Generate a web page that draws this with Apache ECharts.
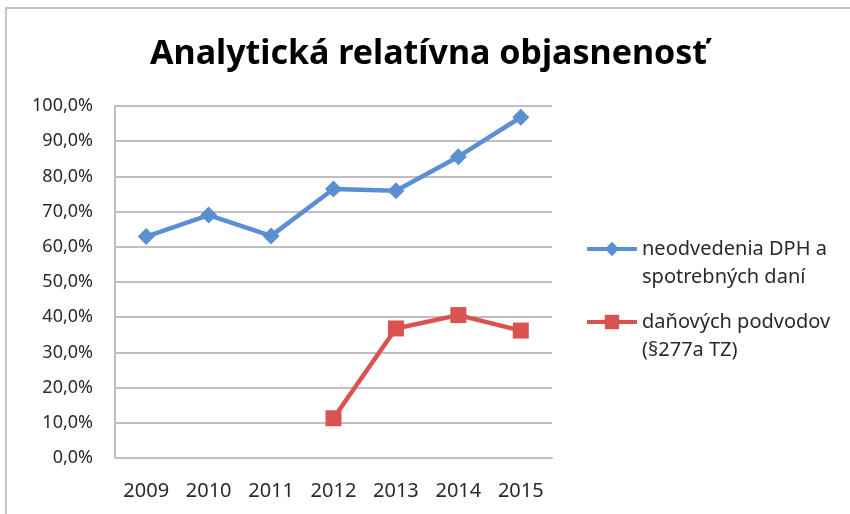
<!DOCTYPE html>
<html>
<head>
<meta charset="utf-8">
<script src="https://cdn.jsdelivr.net/npm/echarts@6/dist/echarts.min.js"></script>
<style>
  html, body { margin: 0; padding: 0; background: #fff; overflow: hidden; }
  #chart { width: 850px; height: 514px; }
</style>
</head>
<body>
<div id="chart"></div>
<script>
  // data (in %)
  const years = ['2009', '2010', '2011', '2012', '2013', '2014', '2015']
  const dphName = 'neodvedenia DPH a\nspotrebných daní'
  const dphValues = [62.9, 69.0, 63.1, 76.4, 75.9, 85.6, 96.8]
  const podvodName = 'daňových podvodov\n(§277a TZ)'
  const podvodValues = [null, null, null, 11.3, 36.8, 40.6, 36.2]

  const gridGray = '#bfbfbf'
  const labelColor = '#2a2a2a'

  // an empty first line keeps the icon level with the first text line
  function legendAt(name, top) {
    return {
      data: [name],
      orient: 'vertical',
      left: 585,
      top: top,
      padding: 0,
      itemWidth: 50,
      itemHeight: 18,
      itemGap: 0,
      lineStyle: { width: 4 },
      formatter: n => ' \n' + n,
      textStyle: {
        fontFamily: 'Noto Sans',
        fontSize: 20,
        color: labelColor,
        lineHeight: 28
      }
    }
  }

  const myChart = echarts.init(document.getElementById('chart'))
  myChart.setOption({
    backgroundColor: '#fff',
    animation: false,
    title: {
      text: 'Analytická relatívna objasnenosť',
      left: 145,
      top: 32,
      textStyle: {
        fontFamily: 'Noto Sans',
        fontWeight: 'bold',
        fontSize: 34,
        color: '#000'
      }
    },
    graphic: [{
      type: 'rect',
      silent: true,
      z: -10,
      shape: { x: 6, y: 8, width: 900, height: 600 },
      style: { fill: 'none', stroke: '#c4c4c4', lineWidth: 2 }
    }],
    legend: [legendAt(dphName, 207), legendAt(podvodName, 280)],
    grid: {
      left: 115,
      right: 298,
      top: 106,
      bottom: 56
    },
    xAxis: {
      type: 'category',
      data: years,
      boundaryGap: true,
      axisTick: { show: false },
      axisLine: { lineStyle: { color: gridGray, width: 2 } },
      axisLabel: {
        margin: 23,
        fontFamily: 'Noto Sans',
        fontSize: 20,
        color: labelColor
      }
    },
    yAxis: {
      type: 'value',
      min: 0,
      max: 100,
      interval: 10,
      axisLine: { show: true, lineStyle: { color: gridGray, width: 2 } },
      axisTick: { show: false },
      splitLine: { lineStyle: { color: gridGray, width: 2 } },
      axisLabel: {
        margin: 22,
        fontFamily: 'Noto Sans',
        fontSize: 18,
        color: labelColor,
        formatter: v => v.toFixed(1).replace('.', ',') + '%'
      }
    },
    series: [{
      name: dphName,
      type: 'line',
      data: dphValues,
      symbol: 'diamond',
      symbolSize: 17,
      color: '#5b8fd3',
      lineStyle: { width: 4.5, color: '#5b8fd3' },
      itemStyle: { color: '#5b8fd3' }
    }, {
      name: podvodName,
      type: 'line',
      data: podvodValues,
      symbol: 'rect',
      symbolSize: 16,
      color: '#d9534f',
      lineStyle: { width: 4.5, color: '#d9534f' },
      itemStyle: { color: '#d9534f' }
    }]
  })
</script>
</body>
</html>
